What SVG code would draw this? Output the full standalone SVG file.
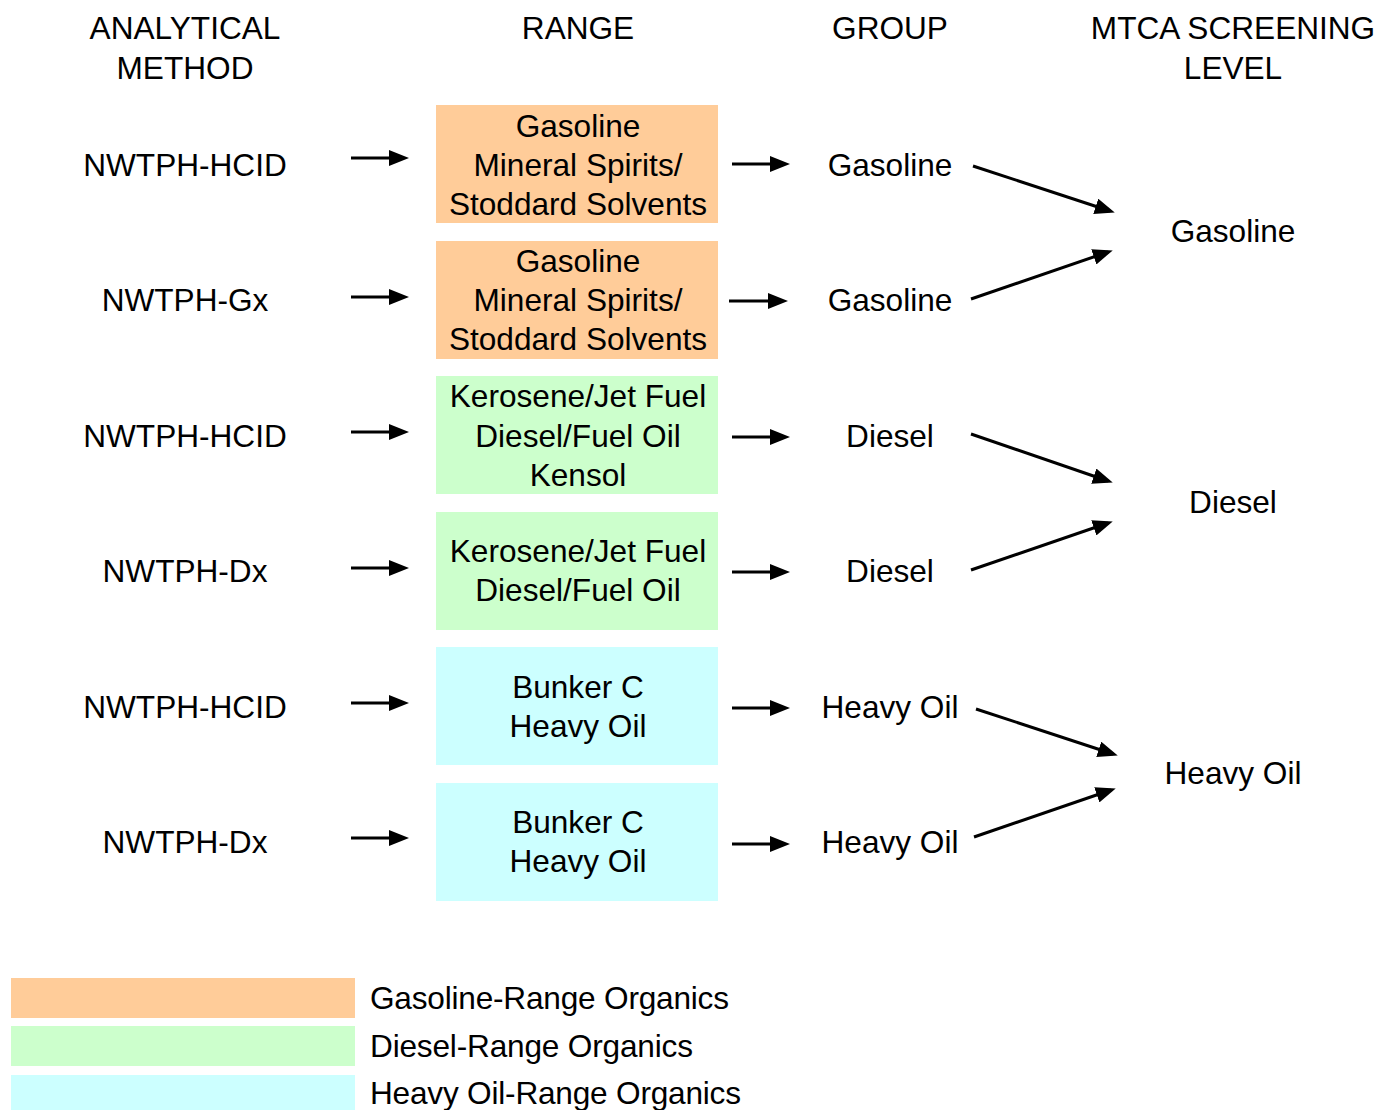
<svg xmlns="http://www.w3.org/2000/svg" width="1378" height="1110" viewBox="0 0 1378 1110">
<style>
text{font-family:"Liberation Sans",Arial,sans-serif;font-size:31.6px;fill:#000;text-anchor:middle}
.lg{text-anchor:start}
.o{fill:#FFCC99}.g{fill:#CCFFCC}.c{fill:#CCFFFF}
line{stroke:#000;stroke-width:3;marker-end:url(#ah)}
</style>
<defs>
<marker id="ah" markerUnits="userSpaceOnUse" markerWidth="20" markerHeight="16" refX="15" refY="8" orient="auto">
<path d="M0,0 L20,8 L0,16 z" fill="#000"/>
</marker>
</defs>
<rect width="1378" height="1110" fill="#fff"/>
<g id="headers">
<text x="185" y="39">ANALYTICAL</text><text x="185" y="79">METHOD</text>
<text x="578" y="39">RANGE</text>
<text x="890" y="39">GROUP</text>
<text x="1233" y="39">MTCA SCREENING</text><text x="1233" y="79">LEVEL</text>
</g>
<g id="methods">
<text x="185" y="176">NWTPH-HCID</text>
<text x="185" y="311">NWTPH-Gx</text>
<text x="185" y="447">NWTPH-HCID</text>
<text x="185" y="582">NWTPH-Dx</text>
<text x="185" y="718">NWTPH-HCID</text>
<text x="185" y="853">NWTPH-Dx</text>
</g>
<g id="range1"><rect class="o" x="436" y="105" width="282" height="118"/><text x="578" y="137">Gasoline</text><text x="578" y="176">Mineral Spirits/</text><text x="578" y="215">Stoddard Solvents</text></g>
<g id="range2"><rect class="o" x="436" y="241" width="282" height="118"/><text x="578" y="272">Gasoline</text><text x="578" y="311">Mineral Spirits/</text><text x="578" y="350">Stoddard Solvents</text></g>
<g id="range3"><rect class="g" x="436" y="376" width="282" height="118"/><text x="578" y="407">Kerosene/Jet Fuel</text><text x="578" y="447">Diesel/Fuel Oil</text><text x="578" y="486">Kensol</text></g>
<g id="range4"><rect class="g" x="436" y="512" width="282" height="118"/><text x="578" y="562">Kerosene/Jet Fuel</text><text x="578" y="601">Diesel/Fuel Oil</text></g>
<g id="range5"><rect class="c" x="436" y="647" width="282" height="118"/><text x="578" y="698">Bunker C</text><text x="578" y="737">Heavy Oil</text></g>
<g id="range6"><rect class="c" x="436" y="783" width="282" height="118"/><text x="578" y="833">Bunker C</text><text x="578" y="872">Heavy Oil</text></g>
<g id="groups">
<text x="890" y="176">Gasoline</text>
<text x="890" y="311">Gasoline</text>
<text x="890" y="447">Diesel</text>
<text x="890" y="582">Diesel</text>
<text x="890" y="718">Heavy Oil</text>
<text x="890" y="853">Heavy Oil</text>
</g>
<g id="levels">
<text x="1233" y="242">Gasoline</text>
<text x="1233" y="513">Diesel</text>
<text x="1233" y="784">Heavy Oil</text>
</g>
<g id="connectors">
<line x1="351" y1="158" x2="404" y2="158"/>
<line x1="351" y1="297" x2="404" y2="297"/>
<line x1="351" y1="432" x2="404" y2="432"/>
<line x1="351" y1="568" x2="404" y2="568"/>
<line x1="351" y1="703" x2="404" y2="703"/>
<line x1="351" y1="838" x2="404" y2="838"/>
<line x1="732" y1="164" x2="785" y2="164"/>
<line x1="729" y1="301" x2="783" y2="301"/>
<line x1="732" y1="437" x2="785" y2="437"/>
<line x1="732" y1="572" x2="785" y2="572"/>
<line x1="732" y1="708" x2="785" y2="708"/>
<line x1="732" y1="844" x2="785" y2="844"/>
<line x1="973" y1="166" x2="1110" y2="211"/>
<line x1="971" y1="299" x2="1108" y2="252"/>
<line x1="971" y1="434" x2="1108" y2="481"/>
<line x1="971" y1="570" x2="1108" y2="523"/>
<line x1="976" y1="709" x2="1113" y2="754"/>
<line x1="974" y1="837" x2="1111" y2="790"/>
</g>
<g id="legend">
<rect class="o" x="11" y="978" width="344" height="40"/>
<rect class="g" x="11" y="1026" width="344" height="40"/>
<rect class="c" x="11" y="1075" width="344" height="35"/>
<text class="lg" x="370" y="1009" textLength="359">Gasoline-Range Organics</text>
<text class="lg" x="370" y="1057" textLength="323">Diesel-Range Organics</text>
<text class="lg" x="370" y="1104" textLength="371">Heavy Oil-Range Organics</text>
</g>
</svg>
